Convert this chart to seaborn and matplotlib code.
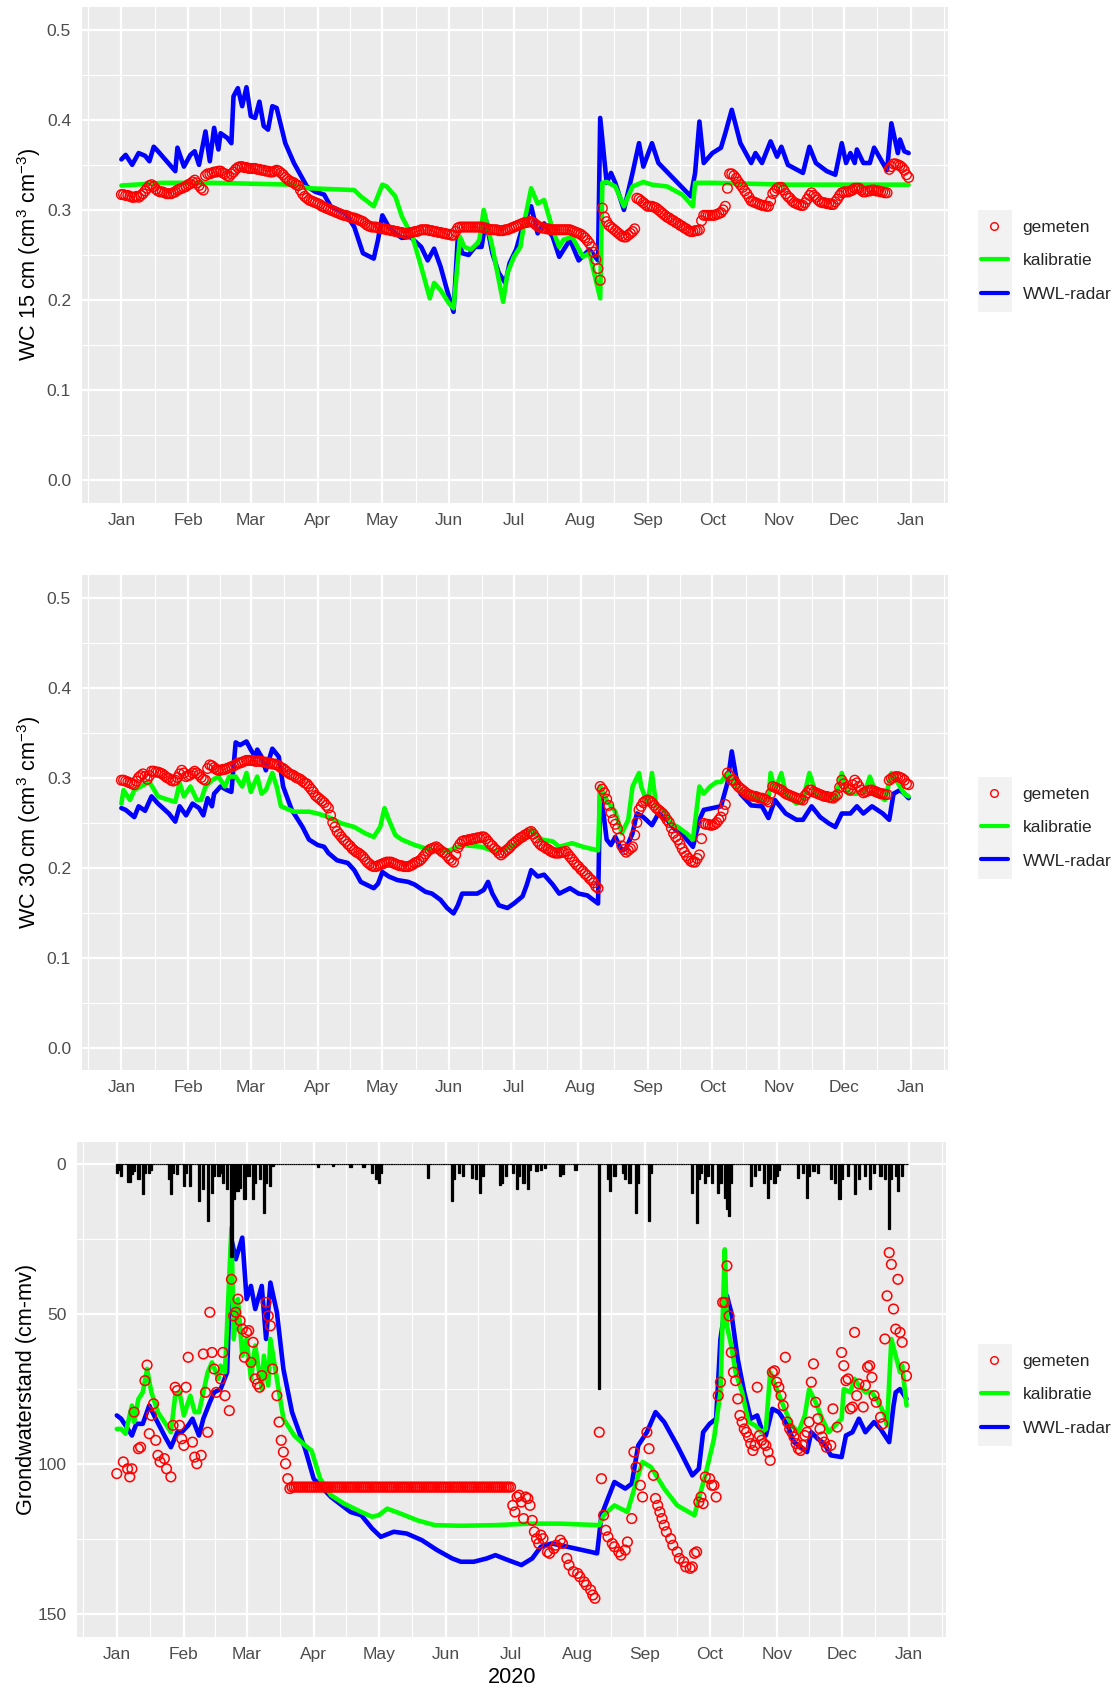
import numpy as np
import pandas as pd
import matplotlib
matplotlib.use("Agg")
import matplotlib.pyplot as plt
import matplotlib.dates as mdates
from matplotlib.lines import Line2D
from matplotlib.patches import Rectangle
import seaborn as sns

# ---------------------------------------------------------------- data
# day index 0 = 1 January 2020

# soil moisture at 15 cm, daily sensor readings (m3/m3)
wc15_meas = [
    .317, .317, .316, .316, .315, .314, .314, .315, .314, .316, .318, .321, .324, .327, .328, .326, .323, .321, .320, .320,
    .319, .318, .318, .318, .319, .320, .322, .323, .324, .325, .326, .328, .329, .331, .333, .330, .327, .324, .322, .338,
    .340, .340, .341, .342, .342, .343, .343, .341, .340, .338, .337, .340, .342, .345, .347, .348, .348, .347, .347, .346,
    .346, .346, .346, .345, .345, .344, .344, .343, .343, .342, .342, .343, .344, .343, .341, .339, .336, .334, .332, .331,
    .330, .328, .327, .322, .318, .315, .313, .311, .310, .309, .308, .307, .306, .304, .303, .302, .301, .300, .299, .298,
    .297, .296, .295, .294, .294, .293, .292, .291, .291, .290, .289, .288, .287, .285, .283, .282, .281, .281, .281, .280,
    .280, .279, .279, .278, .278, .277, .277, .276, .276, .275, .275, .274, .274, .274, .275, .275, .276, .276, .277, .278,
    .278, .278, .278, .277, .277, .276, .276, .275, .275, .274, .274, .273, .273, .272, .272, .276, .280, .281, .281, .281,
    .281, .281, .281, .281, .281, .281, .281, .281, .280, .280, .279, .278, .278, .278, .278, .277, .277, .277, .278, .278,
    .279, .280, .281, .282, .283, .284, .285, .286, .286, .287, .287, .286, .284, .282, .281, .280, .280, .279, .279, .278,
    .278, .278, .278, .278, .278, .278, .278, .278, .278, .277, .276, .275, .274, .273, .271, .269, .266, .263, .259, .253,
    .245, .235, .222, .302, .292, .287, .283, .281, .279, .277, .275, .273, .271, .270, .270, .272, .274, .276, .279, .313,
    .312, .310, .308, .306, .304, .304, .304, .303, .302, .300, .298, .296, .294, .292, .291, .289, .288, .286, .285, .283,
    .282, .280, .279, .277, .276, .276, .277, .277, .278, .288, .294, .294, .294, .294, .294, .294, .295, .296, .297, .300,
    .304, .324, .340, .340, .338, .335, .331, .328, .325, .321, .318, .314, .310, .309, .308, .307, .306, .305, .305, .304,
    .304, .310, .318, .321, .324, .325, .325, .322, .318, .315, .313, .310, .308, .307, .306, .305, .305, .308, .312, .316,
    .319, .316, .314, .311, .309, .308, .308, .307, .307, .306, .306, .309, .312, .316, .319, .320, .320, .320, .321, .322,
    .324, .324, .324, .322, .320, .320, .321, .321, .322, .322, .321, .321, .320, .320, .319, .319, .345, .348, .351, .351,
    .350, .349, .347, .344, .339, .336,
]

wc15_kalibratie = [
    (0, .327), (19, .330), (42, .330), (80, .328), (87, .324), (108, .322),
    (111, .315), (117, .304), (121, .328), (123, .326), (127, .315), (130, .293),
    (135, .270), (139, .237), (143, .202), (145, .219), (148, .211), (152, .196),
    (154, .191), (157, .270), (159, .259), (162, .256), (165, .263), (166, .267),
    (168, .300), (172, .259), (175, .222), (177, .198), (179, .230), (182, .248),
    (185, .259), (187, .289), (190, .324), (193, .307), (196, .311), (200, .278),
    (203, .259), (205, .267), (209, .270), (214, .248), (217, .252), (222, .202),
    (223, .330), (225, .331), (229, .326), (233, .304), (237, .326), (242, .331),
    (246, .328), (253, .326), (260, .317), (265, .304), (266, .330), (274, .330),
    (309, .328), (365, .328),
]

wc15_radar = [
    (0, .356), (2, .361), (5, .350), (8, .363), (11, .360), (13, .354), (15, .370),
    (17, .365), (25, .343), (26, .369), (29, .348), (32, .361), (34, .365), (36, .350),
    (39, .387), (41, .354), (43, .391), (45, .367), (46, .385), (49, .380), (51, .374),
    (52, .426), (54, .435), (56, .415), (58, .436), (60, .404), (62, .402), (64, .420),
    (66, .393), (68, .389), (70, .415), (72, .413), (76, .374), (80, .352), (86, .326),
    (90, .320), (94, .317), (97, .304), (104, .296), (108, .281), (112, .252), (117, .246),
    (119, .267), (121, .294), (124, .281), (127, .274), (130, .269), (134, .270), (139, .259),
    (142, .244), (145, .257), (148, .237), (151, .211), (154, .187), (156, .270), (158, .252),
    (161, .250), (164, .259), (167, .259), (169, .289), (172, .252), (175, .230), (178, .219),
    (180, .241), (183, .256), (186, .281), (190, .304), (193, .274), (196, .285), (200, .270),
    (203, .248), (208, .267), (212, .244), (217, .256), (221, .244), (222, .402), (225, .330),
    (227, .341), (229, .330), (233, .300), (237, .341), (240, .374), (242, .348), (246, .374),
    (249, .352), (264, .315), (266, .341), (268, .398), (270, .352), (274, .363), (278, .369),
    (280, .385), (283, .411), (287, .374), (292, .352), (294, .363), (297, .352), (301, .376),
    (304, .359), (306, .370), (309, .350), (316, .341), (319, .370), (322, .352), (327, .343),
    (331, .339), (334, .374), (336, .352), (338, .363), (340, .352), (341, .367), (344, .352),
    (347, .352), (349, .369), (353, .352), (355, .344), (357, .396), (360, .363), (361, .378),
    (363, .365), (365, .363),
]

# soil moisture at 30 cm, daily sensor readings (m3/m3)
wc30_meas = [
    .297, .297, .296, .295, .294, .293, .292, .296, .300, .302, .304, .301, .298, .302, .307, .307, .306, .306, .305, .304,
    .302, .300, .299, .297, .296, .297, .300, .304, .308, .305, .301, .302, .303, .305, .307, .305, .303, .300, .298, .297,
    .310, .314, .313, .311, .309, .308, .308, .309, .309, .310, .311, .312, .313, .314, .316, .316, .317, .318, .319, .319,
    .319, .319, .318, .318, .318, .318, .317, .317, .316, .316, .315, .315, .314, .313, .311, .310, .308, .306, .304, .303,
    .302, .300, .299, .298, .296, .294, .293, .290, .287, .284, .280, .278, .276, .274, .272, .269, .266, .258, .250, .245,
    .240, .237, .234, .231, .229, .226, .224, .221, .219, .217, .216, .214, .212, .209, .206, .204, .202, .201, .201, .202,
    .203, .204, .205, .206, .206, .206, .205, .204, .203, .202, .202, .201, .201, .201, .202, .203, .205, .206, .207, .209,
    .212, .215, .218, .220, .221, .222, .223, .221, .219, .217, .216, .213, .210, .208, .206, .214, .222, .226, .229, .230,
    .230, .231, .231, .232, .232, .233, .233, .234, .234, .232, .229, .226, .224, .221, .219, .216, .214, .216, .218, .220,
    .222, .225, .227, .229, .231, .233, .234, .236, .237, .239, .240, .237, .233, .229, .226, .224, .223, .221, .220, .218,
    .217, .216, .216, .216, .217, .217, .218, .215, .212, .209, .206, .203, .201, .198, .196, .193, .191, .188, .186, .183,
    .179, .177, .290, .287, .283, .276, .269, .261, .253, .248, .243, .233, .224, .220, .217, .219, .221, .223, .236, .250,
    .264, .268, .272, .274, .275, .274, .272, .269, .266, .264, .262, .260, .257, .253, .250, .244, .238, .234, .231, .226,
    .221, .217, .213, .210, .207, .206, .206, .210, .214, .232, .249, .248, .248, .247, .247, .248, .250, .253, .256, .263,
    .270, .305, .302, .297, .297, .293, .290, .288, .286, .284, .282, .281, .280, .279, .279, .278, .277, .277, .276, .275,
    .273, .282, .290, .289, .288, .287, .286, .284, .282, .281, .280, .279, .278, .277, .276, .276, .275, .280, .283, .286,
    .286, .284, .283, .282, .281, .280, .279, .279, .278, .278, .277, .279, .281, .289, .297, .293, .289, .287, .286, .292,
    .297, .294, .290, .286, .283, .284, .285, .286, .286, .285, .284, .283, .282, .282, .281, .281, .297, .299, .300, .301,
    .301, .300, .299, .297, .293, .292,
]

wc30_kalibratie = [
    (0, .271), (1, .286), (4, .275), (6, .286), (9, .290), (13, .295), (17, .279),
    (22, .275), (25, .273), (27, .294), (29, .279), (32, .290), (35, .275), (37, .275),
    (39, .290), (42, .297), (45, .301), (48, .290), (50, .301), (53, .301), (56, .290),
    (58, .305), (60, .284), (63, .301), (65, .282), (67, .286), (70, .305), (72, .290),
    (74, .268), (80, .262), (87, .262), (91, .260), (96, .256), (102, .249), (108, .245),
    (113, .238), (117, .234), (120, .245), (122, .266), (124, .253), (127, .236), (130, .231),
    (136, .225), (144, .219), (152, .219), (158, .225), (167, .223), (173, .218), (178, .221),
    (184, .227), (190, .242), (195, .231), (200, .229), (203, .223), (209, .227), (214, .223),
    (221, .219), (222, .290), (225, .275), (229, .262), (232, .238), (235, .253), (237, .290),
    (240, .305), (241, .290), (244, .271), (246, .305), (248, .268), (251, .264), (255, .249),
    (258, .245), (262, .238), (265, .231), (268, .290), (270, .282), (273, .290), (276, .295),
    (278, .295), (281, .305), (284, .294), (287, .286), (292, .279), (297, .275), (300, .275),
    (301, .305), (303, .286), (306, .305), (308, .282), (313, .271), (316, .275), (319, .305),
    (322, .282), (327, .279), (331, .275), (334, .305), (337, .282), (341, .282), (345, .286),
    (347, .301), (350, .282), (354, .275), (357, .305), (360, .294), (363, .282), (365, .279),
]

wc30_radar = [
    (0, .266), (2, .264), (4, .260), (6, .256), (8, .268), (11, .263), (14, .279),
    (17, .271), (22, .260), (25, .251), (27, .268), (30, .258), (33, .271), (36, .266),
    (38, .258), (40, .277), (42, .268), (43, .282), (46, .290), (49, .286), (51, .284),
    (53, .339), (55, .336), (58, .340), (60, .331), (62, .323), (63, .331), (65, .323),
    (67, .308), (70, .332), (73, .323), (75, .290), (79, .264), (84, .245), (87, .231),
    (91, .225), (94, .223), (96, .216), (100, .208), (105, .205), (108, .197), (111, .184),
    (117, .177), (119, .182), (121, .195), (124, .190), (128, .186), (133, .184), (136, .181),
    (141, .173), (144, .171), (148, .164), (151, .155), (154, .149), (156, .158), (158, .171),
    (162, .171), (165, .171), (168, .175), (170, .184), (172, .171), (175, .158), (179, .155),
    (182, .160), (186, .168), (188, .181), (190, .197), (193, .190), (196, .192), (200, .181),
    (203, .171), (208, .177), (212, .171), (216, .169), (221, .160), (222, .290), (225, .231),
    (227, .225), (229, .234), (232, .219), (234, .221), (237, .238), (239, .260), (242, .256),
    (246, .247), (249, .260), (253, .253), (256, .244), (261, .234), (265, .223), (268, .253),
    (270, .264), (274, .266), (278, .268), (281, .294), (283, .329), (285, .301), (287, .282),
    (292, .269), (297, .268), (300, .255), (303, .275), (308, .260), (313, .253), (316, .253),
    (320, .268), (324, .256), (328, .249), (331, .245), (334, .260), (338, .260), (341, .268),
    (344, .260), (348, .268), (353, .260), (356, .253), (358, .282), (361, .286), (363, .282),
    (365, .277),
]

# groundwater level (cm below surface)
gw_meas = [
    (0, 103.1), (3, 99.2), (5, 101.5), (6, 104.2), (7, 101.5), (8, 82.6), (10, 94.8),
    (11, 94.3), (13, 72.1), (14, 66.9), (15, 89.8), (16, 83.7), (17, 79.8), (18, 92.0),
    (19, 97.0), (20, 99.2), (22, 98.1), (23, 101.5), (25, 104.2), (26, 87.0), (27, 74.3),
    (28, 75.4), (29, 87.0), (30, 91.5), (31, 93.7), (32, 74.3), (33, 64.3), (35, 92.6),
    (36, 97.6), (37, 99.8), (39, 97.0), (40, 63.2), (41, 76.0), (42, 89.3), (43, 49.3),
    (44, 62.7), (45, 68.2), (46, 76.0), (48, 71.5), (49, 62.7), (50, 77.1), (52, 82.1),
    (53, 38.3), (54, 50.5), (55, 49.3), (56, 44.9), (57, 52.1), (58, 54.9), (59, 64.3),
    (60, 56.0), (61, 55.4), (62, 66.0), (63, 59.3), (64, 71.5), (65, 73.2), (66, 74.3),
    (67, 70.4), (69, 46.0), (70, 50.5), (71, 53.8), (72, 68.2), (74, 77.1), (75, 85.9),
    (76, 92.0), (77, 95.9), (78, 99.8), (79, 104.8), (80, 108.1),
    (183, 113.7), (184, 115.9), (185, 110.9), (186, 110.3), (187, 112.6), (188, 118.1),
    (189, 110.9), (190, 111.4), (191, 113.7), (192, 118.7), (193, 122.5), (194, 124.8),
    (195, 126.4), (196, 123.6), (197, 124.8), (199, 129.2), (200, 129.7), (202, 128.1),
    (203, 127.0), (205, 125.3), (206, 126.4), (208, 131.4), (209, 133.6), (211, 135.8),
    (213, 136.4), (214, 137.5), (216, 139.2), (217, 140.3), (219, 141.9), (220, 143.6),
    (221, 144.7), (223, 89.3), (224, 104.8), (225, 117.0), (226, 122.0), (227, 124.2),
    (229, 126.4), (230, 127.5), (232, 129.2), (233, 130.3), (235, 128.6), (236, 125.9),
    (238, 118.1), (239, 95.9), (240, 100.9), (242, 107.0), (243, 110.9), (245, 89.3),
    (246, 94.8), (248, 103.7), (249, 111.4), (250, 113.7), (251, 115.9), (252, 118.1),
    (253, 120.3), (254, 122.5), (256, 124.8), (257, 127.0), (259, 129.2), (260, 131.4),
    (262, 132.5), (263, 134.2), (265, 134.7), (266, 134.2), (267, 129.7), (268, 129.2),
    (269, 112.6), (270, 110.9), (271, 113.1), (272, 104.2), (274, 104.8), (275, 107.0),
    (276, 107.0), (277, 110.9), (278, 77.1), (279, 72.6), (280, 46.0), (281, 46.0),
    (282, 33.8), (283, 50.5), (284, 62.7), (285, 69.3), (286, 72.1), (287, 78.2),
    (288, 83.7), (289, 85.9), (290, 88.2), (291, 89.3), (292, 90.9), (293, 93.1),
    (294, 95.4), (295, 93.7), (296, 74.3), (297, 90.4), (298, 92.0), (299, 93.1),
    (300, 93.7), (301, 95.9), (302, 98.7), (303, 69.3), (304, 68.8), (305, 72.6),
    (306, 74.3), (307, 77.1), (308, 80.4), (309, 64.3), (310, 85.9), (311, 88.2),
    (312, 89.3), (313, 90.9), (314, 93.1), (315, 94.8), (316, 95.4), (317, 93.7),
    (318, 90.4), (319, 89.3), (320, 85.9), (321, 72.6), (322, 66.5), (323, 79.3),
    (324, 84.8), (325, 88.2), (326, 90.9), (327, 92.6), (328, 94.3), (330, 93.7),
    (331, 81.5), (333, 87.6), (335, 62.7), (336, 67.1), (337, 72.1), (338, 71.5),
    (339, 81.5), (340, 80.9), (341, 56.0), (342, 77.1), (343, 73.2), (345, 80.9),
    (346, 73.7), (347, 67.6), (348, 67.1), (349, 71.0), (350, 77.1), (351, 79.3),
    (353, 84.3), (354, 86.5), (355, 58.2), (356, 43.8), (357, 29.4), (358, 33.3),
    (359, 48.2), (360, 54.9), (361, 38.3), (362, 56.0), (363, 59.3), (364, 67.5),
    (365, 70.5),
]
# sensor stuck at its lowest reading from late March to 1 July
gw_meas_dry_days = list(range(81, 183))
gw_meas_dry_level = 107.6

gw_kalibratie = [
    (0, 88.2), (2, 88.2), (4, 89.8), (7, 80.4), (8, 85.9), (10, 78.2), (12, 76.0),
    (14, 68.2), (16, 76.0), (19, 82.6), (23, 87.0), (25, 89.3), (27, 77.1), (29, 76.0),
    (31, 83.7), (34, 77.1), (36, 82.6), (38, 82.6), (40, 76.0), (42, 69.3), (44, 66.0),
    (47, 71.5), (48, 67.1), (50, 69.3), (53, 21.1), (54, 58.2), (56, 44.9), (58, 63.8),
    (60, 58.2), (62, 71.5), (64, 60.4), (67, 74.9), (68, 63.8), (70, 73.7), (71, 58.2),
    (74, 71.5), (77, 84.8), (82, 90.4), (87, 93.7), (90, 95.4), (94, 104.8), (99, 110.3),
    (105, 113.1), (113, 115.9), (118, 117.5), (121, 117.0), (125, 114.8), (131, 116.4),
    (139, 118.7), (147, 120.3), (159, 120.5), (175, 120.3), (190, 119.8), (205, 119.8),
    (223, 120.3), (225, 117.0), (230, 113.7), (236, 115.9), (241, 103.7), (243, 99.2),
    (247, 101.0), (253, 108.1), (259, 113.7), (267, 117.0), (269, 111.4), (272, 103.7),
    (276, 91.5), (279, 76.0), (281, 28.3), (282, 53.8), (284, 60.4), (286, 69.3),
    (289, 76.0), (292, 85.9), (295, 87.0), (298, 89.3), (300, 88.2), (302, 69.3),
    (305, 74.9), (308, 80.4), (312, 87.0), (315, 89.3), (318, 83.7), (320, 74.9),
    (323, 79.3), (326, 84.8), (329, 89.3), (332, 87.0), (335, 84.8), (336, 74.9),
    (339, 76.0), (341, 71.5), (343, 73.7), (346, 76.0), (349, 76.0), (352, 79.3),
    (355, 83.7), (356, 87.0), (358, 58.2), (360, 63.8), (362, 69.3), (363, 67.1),
    (365, 80.4),
]

gw_radar = [
    (0, 83.7), (2, 84.8), (4, 87.0), (7, 90.4), (9, 86.5), (12, 86.5), (15, 80.4),
    (18, 84.8), (22, 90.4), (25, 94.3), (28, 89.3), (30, 89.3), (33, 87.0), (35, 84.8),
    (38, 90.4), (40, 84.8), (43, 79.3), (45, 76.0), (48, 74.9), (51, 69.3), (53, 25.0),
    (55, 31.6), (58, 24.4), (60, 44.9), (62, 40.5), (64, 48.2), (67, 40.5), (69, 58.2),
    (71, 39.4), (74, 49.3), (77, 68.2), (81, 82.6), (87, 94.8), (91, 104.8), (99, 110.9),
    (108, 115.9), (113, 117.0), (118, 121.4), (122, 124.2), (128, 122.5), (134, 123.1),
    (141, 125.3), (148, 128.6), (155, 131.4), (159, 132.5), (165, 132.5), (171, 131.4),
    (175, 130.3), (181, 132.0), (187, 133.6), (192, 131.4), (196, 127.5), (201, 126.4),
    (205, 127.0), (212, 128.1), (219, 129.2), (222, 129.7), (224, 117.0), (227, 111.4),
    (230, 105.9), (235, 108.1), (238, 106.5), (241, 93.7), (245, 89.3), (249, 82.6),
    (253, 85.9), (259, 93.7), (266, 103.7), (269, 101.5), (271, 89.3), (274, 86.5),
    (277, 84.8), (279, 58.2), (282, 43.8), (284, 49.3), (287, 64.9), (290, 76.0),
    (293, 84.8), (296, 83.7), (298, 88.2), (300, 90.4), (303, 81.5), (306, 82.6),
    (310, 87.0), (313, 92.6), (319, 95.9), (321, 89.3), (324, 91.5), (327, 93.1),
    (330, 97.0), (335, 97.6), (337, 90.4), (340, 89.3), (343, 84.8), (346, 89.3),
    (350, 85.9), (353, 88.2), (357, 92.6), (359, 80.4), (360, 76.0), (362, 74.9),
    (364, 77.1), (365, 78.2),
]

# daily precipitation (mm), days not listed are dry
rain = [
    (0, 3.0), (1, 2.0), (2, 3.9), (5, 6.0), (6, 6.0), (7, 3.3), (8, 2.2), (10, 5.0),
    (12, 10.0), (13, 2.8), (15, 2.8), (16, 1.7), (24, 5.0), (25, 10.0), (26, 2.8),
    (28, 3.3), (31, 7.2), (32, 2.8), (34, 7.2), (38, 12.2), (40, 8.3), (42, 18.9),
    (44, 9.4), (45, 3.9), (47, 3.9), (48, 2.8), (49, 6.1), (51, 8.3), (53, 31.0),
    (54, 11.6), (55, 9.0), (56, 8.9), (57, 7.8), (59, 11.6), (60, 3.9), (61, 4.0),
    (63, 11.6), (64, 6.1), (66, 5.0), (68, 16.1), (69, 6.1), (71, 7.2), (72, 0.6),
    (93, 1.0), (100, 0.5), (108, 1.0), (114, 0.8), (118, 2.8), (120, 5.0), (121, 6.1),
    (122, 2.8), (144, 4.4), (155, 12.2), (156, 5.0), (158, 2.8), (160, 3.9), (164, 4.4),
    (166, 5.0), (168, 9.4), (169, 3.9), (177, 6.7), (178, 6.1), (180, 3.9), (183, 2.8),
    (185, 8.3), (186, 3.9), (188, 6.1), (190, 8.3), (191, 2.0), (194, 2.2), (196, 1.7),
    (198, 1.1), (205, 3.9), (206, 3.3), (212, 1.7), (223, 74.9), (227, 5.0), (228, 8.9),
    (230, 3.9), (234, 2.8), (235, 5.0), (237, 6.1), (240, 16.1), (241, 6.1), (246, 18.9),
    (247, 2.8), (266, 9.4), (268, 19.4), (269, 5.0), (270, 2.8), (272, 6.1), (273, 3.9),
    (275, 6.1), (278, 9.4), (279, 6.1), (281, 11.1), (282, 15.0), (283, 17.2), (284, 6.1),
    (293, 7.2), (295, 3.9), (297, 1.7), (299, 6.1), (301, 11.1), (302, 5.0), (304, 6.1),
    (305, 3.9), (306, 1.7), (315, 4.4), (317, 2.8), (319, 11.1), (320, 3.9), (322, 2.2),
    (324, 2.8), (330, 5.0), (332, 6.1), (334, 11.6), (335, 5.0), (338, 3.9), (341, 10.0),
    (343, 5.0), (346, 3.9), (348, 8.3), (350, 2.8), (353, 3.9), (355, 5.0), (357, 21.6),
    (358, 5.0), (360, 3.9), (361, 8.9), (363, 3.9),
]

series_labels = ["gemeten", "kalibratie", "WWL-radar"]
series_colors = ["#FF0000", "#00FF00", "#0000FF"]
month_fmt = "%b"

# ---------------------------------------------------------------- helpers
START = pd.Timestamp("2020-01-01")
END = pd.Timestamp("2020-12-31")


def to_dates(days):
    return START + pd.to_timedelta(np.asarray(days), unit="D")


def split(pairs):
    arr = np.asarray(pairs, dtype=float)
    return to_dates(arr[:, 0]), arr[:, 1]


# ---------------------------------------------------------------- style
sns.set_theme(style="darkgrid")
plt.rcParams.update({
    "font.family": ["Liberation Sans", "DejaVu Sans"],
    "mathtext.fontset": "custom",
    "mathtext.rm": "Liberation Sans",
    "mathtext.it": "Liberation Sans:italic",
    "mathtext.bf": "Liberation Sans:bold",
    "mathtext.default": "regular",
    "axes.facecolor": "#EBEBEB",
    "figure.facecolor": "white",
})

W, H = 1116, 1688
fig = plt.figure(figsize=(W / 100, H / 100), dpi=100)


def panel(left, top, right, bottom):
    return fig.add_axes([left / W, 1 - bottom / H, (right - left) / W, (bottom - top) / H])


TICK_FS = 12.5
TITLE_FS = 15.6
months = pd.date_range("2019-12-01", "2021-02-01", freq="MS")
month_mids = months[:-1] + (months[1:] - months[:-1]) / 2


def style(ax, yticks, yminor, ylim, ylabel, label_x):
    ax.set_facecolor("#EBEBEB")
    for s in ax.spines.values():
        s.set_visible(False)
    ax.set_xlim(START - pd.Timedelta(days=18.25), END + pd.Timedelta(days=18.25))
    ax.xaxis.set_major_locator(mdates.MonthLocator())
    ax.xaxis.set_major_formatter(mdates.DateFormatter(month_fmt))
    ax.xaxis.set_minor_locator(matplotlib.ticker.FixedLocator(mdates.date2num(month_mids)))
    ax.set_yticks(yticks)
    ax.yaxis.set_minor_locator(matplotlib.ticker.FixedLocator(yminor))
    ax.set_ylim(*ylim)
    ax.grid(which="major", color="white", linewidth=1.6)
    ax.grid(which="minor", color="white", linewidth=0.8)
    ax.set_axisbelow(True)
    ax.tick_params(which="major", length=3.9, width=1.0, color="#333333",
                   labelcolor="#4D4D4D", labelsize=TICK_FS)
    ax.tick_params(axis="x", which="major", pad=3.4)
    ax.tick_params(axis="y", which="major", pad=4.0)
    ax.tick_params(which="minor", length=0)
    ax.set_xlabel("")
    ax.set_ylabel(ylabel, fontsize=TITLE_FS, color="black")
    ax.yaxis.set_label_coords(label_x, 0.5)


def add_legend(ax, y_mid):
    handles = [
        Line2D([], [], marker="o", linestyle="none", markerfacecolor="none",
               markeredgecolor=series_colors[0], markersize=5.5, markeredgewidth=1.0),
        Line2D([], [], color=series_colors[1], linewidth=3.0),
        Line2D([], [], color=series_colors[2], linewidth=3.0),
    ]
    ax.legend(handles, series_labels, loc="center left",
              bbox_to_anchor=(981 / W, 1 - y_mid / H), bbox_transform=fig.transFigure,
              frameon=False, borderpad=0, borderaxespad=0, handlelength=1.55,
              handletextpad=0.85, labelspacing=1.05, fontsize=TICK_FS)
    fig.patches.append(Rectangle((977.7 / W, 1 - (y_mid + 51) / H), 34 / W, 102 / H,
                                 transform=fig.transFigure, facecolor="#F2F2F2",
                                 edgecolor="none", zorder=-1))


def draw_wc(ax, meas, kal, radar):
    d, v = split(radar)
    sns.lineplot(x=d, y=v, ax=ax, color=series_colors[2], linewidth=3.3,
                 estimator=None, zorder=2)
    d, v = split(kal)
    sns.lineplot(x=d, y=v, ax=ax, color=series_colors[1], linewidth=3.3,
                 estimator=None, zorder=2.1)
    md = to_dates(np.arange(len(meas)))
    sns.scatterplot(x=md, y=np.asarray(meas), ax=ax, marker="o", s=48,
                    color=series_colors[0], facecolors="none",
                    edgecolor=series_colors[0], linewidth=1.0, legend=False, zorder=3)


# ---------------------------------------------------------------- panel 1: 15 cm
ax1 = panel(82, 7, 948, 503)
draw_wc(ax1, wc15_meas, wc15_kalibratie, wc15_radar)
style(ax1, [0.0, 0.1, 0.2, 0.3, 0.4, 0.5], [0.05, 0.15, 0.25, 0.35, 0.45],
      (-0.025, 0.525), "WC 15 cm (cm$^3$ cm$^{-3}$)", -0.045)
ax1.yaxis.set_major_formatter(matplotlib.ticker.FormatStrFormatter("%.1f"))
add_legend(ax1, 260.7)

# ---------------------------------------------------------------- panel 2: 30 cm
ax2 = panel(82, 575, 948, 1070)
draw_wc(ax2, wc30_meas, wc30_kalibratie, wc30_radar)
style(ax2, [0.0, 0.1, 0.2, 0.3, 0.4, 0.5], [0.05, 0.15, 0.25, 0.35, 0.45],
      (-0.025, 0.525), "WC 30 cm (cm$^3$ cm$^{-3}$)", -0.045)
ax2.yaxis.set_major_formatter(matplotlib.ticker.FormatStrFormatter("%.1f"))
add_legend(ax2, 827.6)

# ---------------------------------------------------------------- panel 3: groundwater
ax3 = panel(77.3, 1141.7, 946, 1636.7)

rain_arr = np.asarray(rain, dtype=float)
daily_rain = np.zeros(366)
daily_rain[rain_arr[:, 0].astype(int)] = rain_arr[:, 1]
ax3.bar(to_dates(np.arange(366)), daily_rain, width=1.0, color="black",
        edgecolor="black", linewidth=0.9, zorder=2.5)

d, v = split(gw_radar)
sns.lineplot(x=d, y=v, ax=ax3, color=series_colors[2], linewidth=3.3,
             estimator=None, zorder=2)
d, v = split(gw_kalibratie)
sns.lineplot(x=d, y=v, ax=ax3, color=series_colors[1], linewidth=3.3,
             estimator=None, zorder=2.1)
md, mv = split(gw_meas)
dry_d = to_dates(gw_meas_dry_days)
dry_v = np.full(len(gw_meas_dry_days), gw_meas_dry_level)
all_d = md.append(dry_d)
all_v = np.concatenate([mv, dry_v])
sns.scatterplot(x=all_d, y=all_v, ax=ax3, marker="o", s=48,
                color=series_colors[0], facecolors="none",
                edgecolor=series_colors[0], linewidth=1.1, legend=False, zorder=3)

style(ax3, [0, 50, 100, 150], [25, 75, 125], (157.5, -7.6),
      "Grondwaterstand (cm-mv)", -0.046)
ax3.set_xlabel("2020", fontsize=TITLE_FS, color="black", labelpad=4)
add_legend(ax3, 1394.7)

fig.savefig("out.png", dpi=100)
